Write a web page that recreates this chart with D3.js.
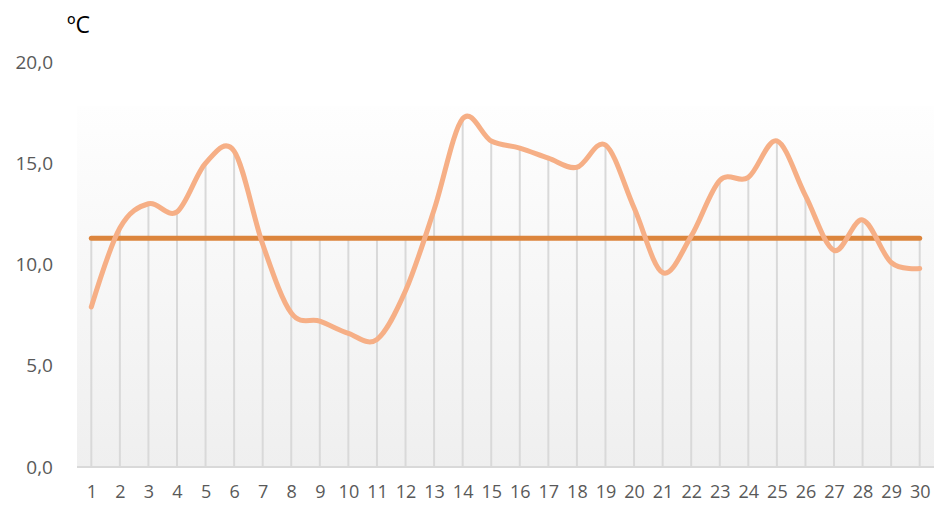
<!DOCTYPE html>
<html lang="en">
    <head>
        <meta charset="utf-8">
        <title>Daily temperature</title>
        <style>
            body { margin: 0; background: #fff; }
            .tick text { font-family: "Open Sans", "Noto Sans", sans-serif; fill: #595959; }
        </style>
    </head>
    <body>
        <script src="https://d3js.org/d3.v7.min.js"></script>
        <script type="text/javascript">

            // chart data
            var days = d3.range(1, 31).map(String);
            var temperature = [7.9, 11.8, 13.0, 12.6, 15.0, 15.6, 11.0, 7.6, 7.2, 6.6,
                               6.3, 8.7, 12.7, 17.2, 16.1, 15.75, 15.25, 14.8, 15.9, 12.8,
                               9.6, 11.4, 14.15, 14.3, 16.1, 13.4, 10.7, 12.2, 10.1, 9.8];
            var average = days.map(() => 11.3);
            var yTicks = [0, 5, 10, 15, 20];

            var width = 935, height = 509;
            var plot = {left: 77, right: 934, top: 106, bottom: 467};

            var svg = d3.select("body")
                        .append("svg")
                        .attr("width", width)
                        .attr("height", height);

            var xScale = d3.scalePoint()
                            .domain(days)
                            .range([plot.left, plot.right])
                            .padding(0.5);

            var yScale = d3.scaleLinear()
                            .domain([0, 20])
                            .range([plot.bottom, 62]);

            // plot area background gradient
            var grad = svg.append("defs").append("linearGradient")
                .attr("id", "bg")
                .attr("x1", 0).attr("y1", 0).attr("x2", 0).attr("y2", 1);
            grad.append("stop").attr("offset", "0%").attr("stop-color", "#fefefe");
            grad.append("stop").attr("offset", "100%").attr("stop-color", "#efefef");

            svg.append("rect")
                .attr("x", plot.left)
                .attr("y", plot.top)
                .attr("width", plot.right - plot.left)
                .attr("height", plot.bottom - plot.top)
                .attr("fill", "url(#bg)");

            // drop lines
            svg.append("g")
                .selectAll("line")
                .data(days)
                .join("line")
                    .attr("x1", d => xScale(d))
                    .attr("x2", d => xScale(d))
                    .attr("y1", (d, i) => yScale(Math.max(temperature[i], average[i])))
                    .attr("y2", yScale(0))
                    .attr("stroke", "#d9d9d9")
                    .attr("stroke-width", 2);

            // y axis (labels only)
            var yAxis = svg.append("g")
                .attr("transform", "translate(56,0)")
                .call(d3.axisLeft(yScale).tickValues(yTicks).tickSize(0)
                        .tickFormat(d => d3.format(".1f")(d).replace(".", ",")));
            yAxis.select(".domain").remove();
            yAxis.selectAll("text").attr("font-size", 19);

            // x axis
            var xAxis = svg.append("g")
                .attr("transform", `translate(0,${plot.bottom})`)
                .call(d3.axisBottom(xScale).tickSize(0).tickPadding(18));
            xAxis.select(".domain").remove();
            xAxis.selectAll("text").attr("font-size", 18);

            svg.append("line")
                .attr("x1", plot.left)
                .attr("x2", plot.right)
                .attr("y1", yScale(0))
                .attr("y2", yScale(0))
                .attr("stroke", "#d9d9d9")
                .attr("stroke-width", 2);

            // average line
            var avgLine = d3.line()
                .x((d, i) => xScale(days[i]))
                .y(d => yScale(d));

            svg.append("path")
                .datum(average)
                .attr("fill", "none")
                .attr("stroke", "#dc853d")
                .attr("stroke-width", 5)
                .attr("stroke-linecap", "round")
                .attr("d", avgLine);

            // smoothed temperature line
            var tempLine = d3.line()
                .x((d, i) => xScale(days[i]))
                .y(d => yScale(d))
                .curve(d3.curveCatmullRom.alpha(0));

            svg.append("path")
                .datum(temperature)
                .attr("fill", "none")
                .attr("stroke", "#f6af86")
                .attr("stroke-width", 5)
                .attr("stroke-linecap", "round")
                .attr("d", tempLine);

            // unit label
            svg.append("text")
                .attr("x", 67)
                .attr("y", 33)
                .attr("font-family", "'Open Sans', 'Noto Sans', sans-serif")
                .attr("font-size", 23)
                .attr("fill", "#000")
                .text("ºC");

        </script>
    </body>
</html>
